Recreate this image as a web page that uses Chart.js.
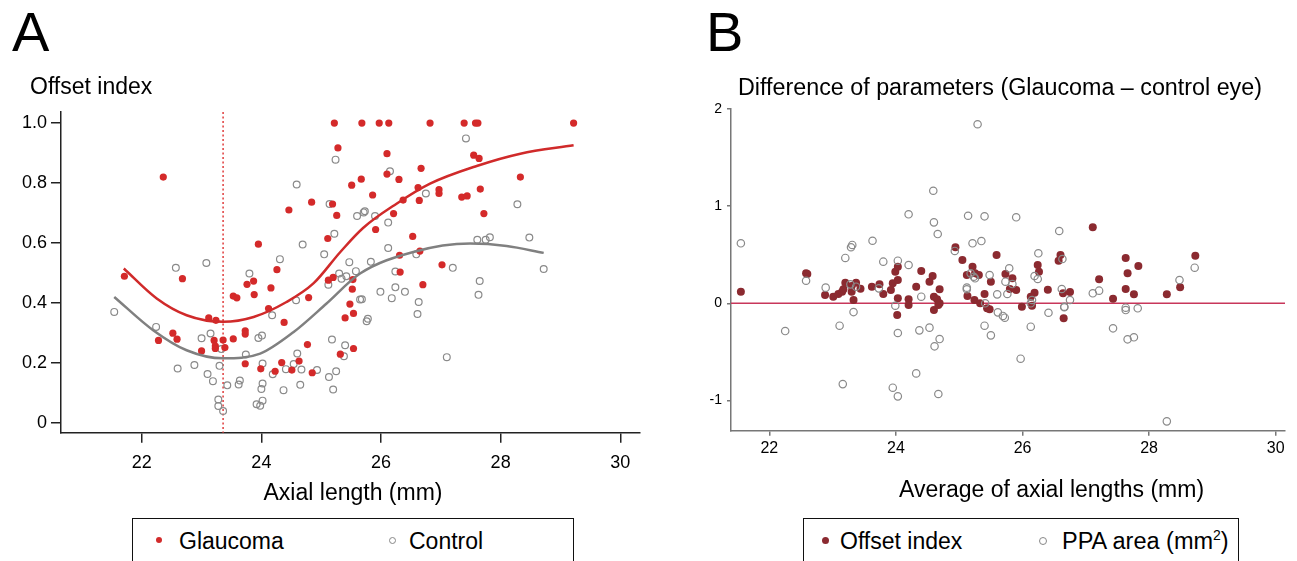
<!DOCTYPE html>
<html>
<head>
<meta charset="utf-8">
<script src="https://cdn.jsdelivr.net/npm/chart.js@4.4.1/dist/chart.umd.min.js"></script>
<style>
  body { margin: 0; width: 1297px; height: 561px; overflow: hidden; background: #fff; position: relative;
         font-family: 'Liberation Sans', Arial, sans-serif; color: #000; }
  canvas { position: absolute; top: 0; }
  .t { position: absolute; line-height: 1; white-space: nowrap; }
  .legend { position: absolute; top: 518px; height: 70px; border: 1.5px solid #111; box-sizing: border-box; }
  .dot { position: absolute; border-radius: 50%; box-sizing: border-box; }
</style>
</head>
<body>
<canvas id="chartA" width="660" height="480" style="left:0"></canvas>
<canvas id="chartB" width="607" height="480" style="left:690px"></canvas>

<div class="t" style="left:12px;top:4px;font-size:56px">A</div>
<div class="t" style="left:30px;top:75px;font-size:23px">Offset index</div>
<div class="t" style="left:253px;width:200px;text-align:center;top:481px;font-size:23px">Axial length (mm)</div>
<div class="legend" style="left:132px;width:442px"></div>
<div class="dot" style="left:156px;top:537px;width:6px;height:6px;background:#d22b2b"></div>
<div class="t" style="left:179px;top:530px;font-size:23px">Glaucoma</div>
<div class="dot" style="left:389px;top:537px;width:7px;height:7px;border:1px solid #888"></div>
<div class="t" style="left:409px;top:530px;font-size:23px">Control</div>

<div class="t" style="left:706px;top:4px;font-size:56px">B</div>
<div class="t" style="left:738px;top:76px;font-size:23.3px">Difference of parameters (Glaucoma – control eye)</div>
<div class="t" style="left:899px;top:478px;font-size:23px">Average of axial lengths (mm)</div>
<div class="legend" style="left:803px;width:436px"></div>
<div class="dot" style="left:822px;top:537px;width:7px;height:7px;background:#8b2a30"></div>
<div class="t" style="left:840px;top:530px;font-size:23px">Offset index</div>
<div class="dot" style="left:1039px;top:537px;width:8px;height:8px;border:1px solid #888"></div>
<div class="t" style="left:1062px;top:530px;font-size:23.5px">PPA area (mm<sup style="font-size:14px;vertical-align:9px;line-height:0">2</sup>)</div>

<script>
// Panel A: offset index vs axial length
const xTicksA = [22, 24, 26, 28, 30];
const yTicksA = [0, 0.2, 0.4, 0.6, 0.8, 1.0];
const cutoffAxialLength = 23.36;

const glaucoma = [
  [22.36, 0.82], [25.22, 1.0], [25.68, 1.0], [25.97, 1.0], [26.13, 1.0], [26.82, 1.0],
  [27.39, 1.0], [27.58, 1.0], [27.62, 1.0], [29.22, 1.0], [25.28, 0.917], [26.10, 0.898],
  [27.55, 0.893], [27.64, 0.882], [26.67, 0.849], [26.10, 0.83], [25.67, 0.813], [26.30, 0.812],
  [25.51, 0.793], [28.33, 0.82], [25.86, 0.76], [26.62, 0.785], [26.97, 0.778], [26.97, 0.765],
  [27.66, 0.78], [27.35, 0.753], [27.44, 0.757], [24.84, 0.736], [24.46, 0.71], [25.19, 0.73],
  [26.37, 0.743], [26.64, 0.742], [25.26, 0.692], [26.21, 0.698], [27.72, 0.698], [25.91, 0.645],
  [25.11, 0.615], [26.53, 0.622], [23.95, 0.596], [26.31, 0.559], [26.65, 0.573], [27.02, 0.527],
  [24.26, 0.511], [26.32, 0.503], [26.70, 0.461], [21.71, 0.489], [22.68, 0.481], [23.12, 0.35],
  [23.24, 0.342], [22.52, 0.299], [22.59, 0.279], [22.28, 0.275], [23.21, 0.275], [23.23, 0.256],
  [23.23, 0.248], [23.36, 0.276], [23.39, 0.251], [23.00, 0.24], [23.53, 0.28], [23.73, 0.307],
  [23.73, 0.296], [23.53, 0.423], [23.59, 0.417], [23.76, 0.462], [23.87, 0.473], [23.88, 0.428],
  [24.16, 0.45], [24.12, 0.381], [24.38, 0.335], [24.79, 0.418], [23.73, 0.197], [23.99, 0.18],
  [24.23, 0.172], [24.34, 0.201], [24.51, 0.176], [24.63, 0.206], [24.85, 0.167], [24.77, 0.261],
  [25.12, 0.476], [25.20, 0.485], [25.53, 0.478], [25.52, 0.446], [25.48, 0.396], [25.40, 0.35],
  [25.54, 0.365], [25.32, 0.229], [25.54, 0.248]
];

const control = [
  [25.24, 0.878], [24.59, 0.795], [25.14, 0.73], [25.60, 0.69], [25.71, 0.702], [25.73, 0.706],
  [25.22, 0.631], [24.69, 0.595], [25.05, 0.562], [24.31, 0.546], [25.47, 0.536], [22.57, 0.517],
  [23.08, 0.533], [27.42, 0.949], [26.15, 0.839], [26.75, 0.765], [28.28, 0.729], [25.90, 0.69],
  [26.12, 0.668], [26.12, 0.583], [27.61, 0.611], [27.75, 0.611], [27.82, 0.619], [28.48, 0.618],
  [25.83, 0.537], [26.59, 0.562], [27.20, 0.517], [28.72, 0.513], [21.54, 0.37], [22.24, 0.32],
  [23.00, 0.282], [23.15, 0.298], [23.33, 0.246], [22.60, 0.181], [22.88, 0.193], [23.10, 0.163],
  [23.19, 0.139], [23.30, 0.19], [23.28, 0.078], [23.28, 0.056], [23.36, 0.039], [23.43, 0.125],
  [23.62, 0.128], [23.64, 0.141], [23.74, 0.228], [23.80, 0.498], [23.95, 0.283], [24.01, 0.291],
  [24.02, 0.198], [24.02, 0.131], [24.00, 0.113], [24.02, 0.074], [23.92, 0.062], [23.98, 0.057],
  [24.18, 0.359], [24.19, 0.162], [24.37, 0.109], [24.41, 0.179], [24.54, 0.196], [24.58, 0.409],
  [24.60, 0.231], [24.65, 0.127], [24.67, 0.178], [24.93, 0.176], [25.13, 0.153], [25.12, 0.461],
  [25.18, 0.278], [25.20, 0.111], [25.25, 0.172], [25.30, 0.498], [25.42, 0.489], [25.34, 0.481],
  [25.40, 0.259], [25.38, 0.222], [25.58, 0.506], [25.65, 0.411], [26.24, 0.505], [26.24, 0.452],
  [25.99, 0.437], [26.40, 0.437], [26.18, 0.416], [25.68, 0.412], [26.63, 0.403], [26.61, 0.363],
  [27.65, 0.473], [27.63, 0.427], [25.76, 0.339], [25.78, 0.347], [27.10, 0.219]
];

// smoothed trend lines
const glaucomaFit = [
  [21.70, 0.515], [22.25, 0.415], [22.75, 0.359], [23.36, 0.337], [23.87, 0.353], [24.42, 0.403],
  [24.87, 0.465], [25.32, 0.570], [25.70, 0.650], [26.26, 0.731], [26.82, 0.798], [27.60, 0.857],
  [28.33, 0.898], [29.22, 0.926]
];
const controlFit = [
  [21.54, 0.42], [22.19, 0.309], [22.75, 0.242], [23.36, 0.215], [23.98, 0.231], [24.54, 0.303],
  [25.09, 0.398], [25.65, 0.498], [26.54, 0.57], [27.49, 0.598], [28.10, 0.59], [28.72, 0.567]
];

// Panel B: difference glaucoma - control eye vs mean axial length
const xTicksB = [22, 24, 26, 28, 30];
const yTicksB = [-1, 0, 1, 2];
const zeroLine = 0;

const offsetDiff = [
  [21.55, 0.12], [22.58, 0.308], [22.60, 0.301], [22.88, 0.085], [23.01, 0.068], [23.09, 0.096],
  [23.15, 0.12], [23.17, 0.144], [23.20, 0.212], [23.30, 0.178], [23.30, 0.12], [23.33, 0.034],
  [23.37, 0.212], [23.44, 0.15], [23.62, 0.171], [23.74, 0.195], [23.80, 0.096], [23.92, 0.137],
  [23.95, 0.206], [23.99, 0.325], [24.03, 0.376], [24.03, 0.239], [24.03, 0.051], [24.20, 0.041],
  [24.20, -0.017], [24.32, 0.171], [24.40, 0.332], [24.53, 0.222], [24.58, 0.281], [24.60, 0.068],
  [24.65, 0.041], [24.69, 0.0], [24.69, 0.144], [24.60, -0.069], [24.94, 0.576], [25.05, 0.445],
  [25.12, 0.291], [25.21, 0.376], [25.25, 0.308], [25.31, 0.291], [25.13, 0.075], [25.24, 0.034],
  [25.40, 0.096], [25.50, 0.222], [25.59, 0.496], [25.73, 0.301], [25.84, 0.257], [25.80, 0.147],
  [25.90, 0.137], [25.33, 0.0], [25.44, -0.051], [27.11, 0.781], [26.60, 0.496], [26.57, 0.438],
  [27.63, 0.466], [27.83, 0.383], [28.73, 0.489], [27.66, 0.308], [27.21, 0.247], [26.24, 0.394],
  [26.26, 0.325], [26.40, 0.14], [26.13, 0.068], [26.19, 0.109], [26.64, 0.103], [26.75, 0.116],
  [27.63, 0.147], [27.76, 0.092], [27.43, 0.047], [28.28, 0.092], [28.49, 0.164], [25.99, -0.035],
  [26.15, -0.025], [24.02, -0.12], [24.67, -0.017], [26.65, -0.154], [25.48, -0.062]
];

const ppaDiff = [
  [21.55, 0.617], [22.58, 0.232], [22.89, 0.161], [23.20, 0.466], [23.29, 0.576], [23.31, 0.60],
  [23.28, 0.195], [23.37, 0.171], [23.63, 0.643], [23.80, 0.428], [24.03, 0.438], [24.20, 0.394],
  [24.20, 0.915], [24.59, 1.157], [24.60, 0.832], [24.66, 0.712], [24.93, 0.538], [25.14, 0.90],
  [25.40, 0.894], [25.21, 0.617], [25.35, 0.64], [25.18, 0.308], [25.23, 0.273], [25.25, 0.257],
  [25.12, 0.161], [25.12, 0.144], [25.48, 0.291], [25.60, 0.092], [25.79, 0.36], [25.73, 0.222],
  [25.84, 0.198], [25.76, 0.096], [25.90, 0.884], [23.99, -0.025], [24.40, 0.068], [25.41, 0.0],
  [23.73, 0.154], [26.58, 0.743], [26.25, 0.514], [26.63, 0.455], [26.19, 0.281], [26.24, 0.25],
  [26.62, 0.147], [27.11, 0.103], [27.21, 0.13], [28.72, 0.366], [28.48, 0.239], [26.75, 0.034],
  [26.66, -0.035], [26.15, 0.034], [26.13, 0.0], [27.63, -0.045], [27.82, -0.051], [22.25, -0.285],
  [23.11, -0.23], [23.33, -0.09], [24.03, -0.305], [24.37, -0.278], [24.53, -0.25], [24.69, -0.367],
  [24.61, -0.442], [24.32, -0.72], [23.16, -0.83], [23.95, -0.867], [24.03, -0.956], [24.67, -0.932],
  [25.40, -0.23], [25.50, -0.329], [25.61, -0.093], [25.69, -0.13], [25.72, -0.148], [25.97, -0.569],
  [26.13, -0.24], [26.41, -0.097], [26.66, -0.041], [27.43, -0.257], [27.63, -0.069], [27.66, -0.37],
  [27.76, -0.349], [28.28, -1.213], [25.29, 1.84]
];

Chart.defaults.font.family = "'Liberation Sans', Arial, sans-serif";
Chart.defaults.color = '#000';
Chart.defaults.animation = false;

const xy = pts => pts.map(([x, y]) => ({ x, y }));
const setTicks = values => scale => { scale.ticks = values.map(v => ({ value: v })); };

// straight reference lines (vertical cut-off in A, zero line in B)
const refLines = {
  id: 'refLines',
  beforeDatasetsDraw(chart, args, opts) {
    const { ctx, chartArea: a, scales } = chart;
    ctx.save();
    ctx.strokeStyle = opts.color;
    ctx.lineWidth = opts.width;
    ctx.setLineDash(opts.dash || []);
    ctx.beginPath();
    if (opts.x !== undefined) {
      const px = scales.x.getPixelForValue(opts.x);
      ctx.moveTo(px, a.top);
      ctx.lineTo(px, a.bottom);
    }
    if (opts.y !== undefined) {
      const py = scales.y.getPixelForValue(opts.y);
      ctx.moveTo(a.left, py);
      ctx.lineTo(a.right, py);
    }
    ctx.stroke();
    ctx.restore();
  }
};

new Chart(document.getElementById('chartA'), {
  type: 'scatter',
  plugins: [refLines],
  data: {
    datasets: [
      { data: xy(glaucomaFit), showLine: true, pointRadius: 0, borderColor: '#d02a2a', borderWidth: 2.5,
        cubicInterpolationMode: 'monotone' },
      { data: xy(controlFit), showLine: true, pointRadius: 0, borderColor: '#808080', borderWidth: 2.5,
        cubicInterpolationMode: 'monotone' },
      { data: xy(glaucoma), pointRadius: 3.6, backgroundColor: '#d42a2a', borderWidth: 0 },
      { data: xy(control), pointRadius: 3.4, backgroundColor: 'transparent', borderColor: '#8a8a8a', borderWidth: 1.2 },
    ],
  },
  options: {
    responsive: false,
    layout: { padding: { top: 112, right: 20, left: 0, bottom: 0 } },
    plugins: {
      legend: { display: false },
      tooltip: { enabled: false },
      refLines: { x: cutoffAxialLength, color: '#e03c3c', width: 1.5, dash: [2, 2.5] },
    },
    scales: {
      x: {
        type: 'linear', min: 20.65, max: 30.33,
        afterBuildTicks: setTicks(xTicksA),
        afterFit: s => { s.height = 47.3; },
        grid: { drawOnChartArea: false, color: '#222', lineWidth: 1.5, tickLength: 10 },
        border: { color: '#222', width: 1.5 },
        ticks: { font: { size: 18 }, padding: 10, color: '#000' },
      },
      y: {
        type: 'linear', min: -0.033, max: 1.037,
        afterBuildTicks: setTicks(yTicksA),
        afterFit: s => { s.width = 61; },
        grid: { drawOnChartArea: false, color: '#222', lineWidth: 1.5, tickLength: 10 },
        border: { color: '#222', width: 1.5 },
        ticks: { font: { size: 18 }, padding: 4, color: '#000', callback: v => v === 0 ? '0' : v.toFixed(1) },
      },
    },
  },
});

new Chart(document.getElementById('chartB'), {
  type: 'scatter',
  plugins: [refLines],
  data: {
    datasets: [
      { data: xy(ppaDiff), pointRadius: 3.7, backgroundColor: 'transparent', borderColor: '#8a8a8a', borderWidth: 1.2 },
      { data: xy(offsetDiff), pointRadius: 4, backgroundColor: '#8b2a30', borderWidth: 0 },
    ],
  },
  options: {
    responsive: false,
    layout: { padding: { top: 108.7, right: 12, left: 0, bottom: 0 } },
    plugins: {
      legend: { display: false },
      tooltip: { enabled: false },
      refLines: { y: zeroLine, color: '#c8365a', width: 1.5 },
    },
    scales: {
      x: {
        type: 'linear', min: 21.394, max: 30.147,
        afterBuildTicks: setTicks(xTicksB),
        afterFit: s => { s.height = 49.3; },
        grid: { drawOnChartArea: false, color: '#777', lineWidth: 1.5, tickLength: 5 },
        border: { color: '#777', width: 1.5 },
        ticks: { font: { size: 16 }, padding: 3, color: '#000' },
      },
      y: {
        type: 'linear', min: -1.309, max: 2.0,
        afterBuildTicks: setTicks(yTicksB),
        afterFit: s => { s.width = 41; },
        grid: { drawOnChartArea: false, color: '#777', lineWidth: 1.5, tickLength: 4 },
        border: { color: '#777', width: 1.5 },
        ticks: { font: { size: 14 }, padding: 5, color: '#000' },
      },
    },
  },
});
</script>
</body>
</html>
